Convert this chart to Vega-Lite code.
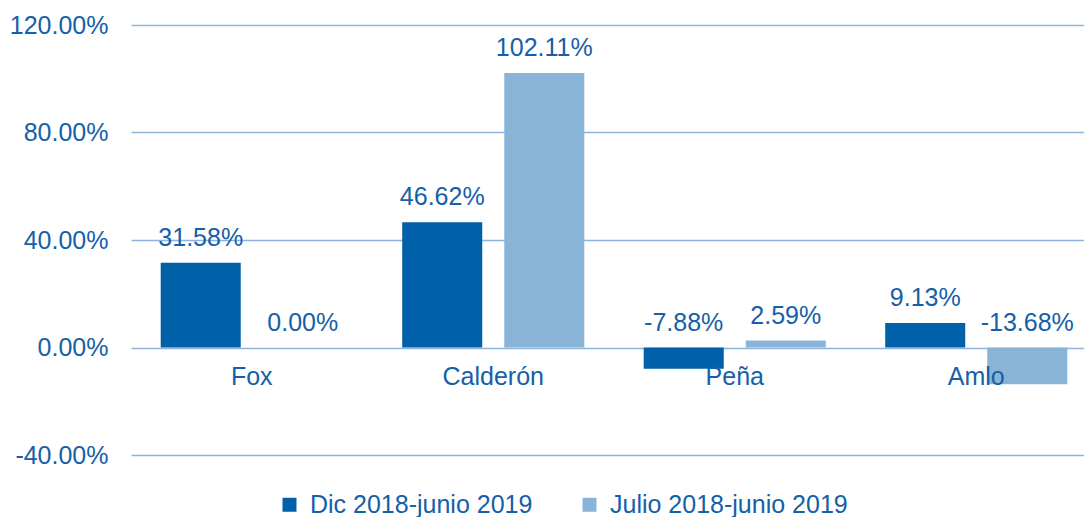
{
  "$schema": "https://vega.github.io/schema/vega-lite/v6.json",
  "width": 966,
  "height": 430,
  "autosize": {"type": "none"},
  "padding": {"left": 131, "top": 25, "right": 0, "bottom": 62},
  "background": "white",
  "config": {
    "view": {"stroke": null},
    "font": "Liberation Sans",
    "locale": {"number": {"decimal": ".", "thousands": ",", "grouping": [3], "currency": ["$", ""], "minus": "-"}}
  },
  "data": {
    "values": [
      {"presidente": "Fox", "periodo": "Dic 2018-junio 2019", "v": 0.3158},
      {"presidente": "Fox", "periodo": "Julio 2018-junio 2019", "v": 0.0},
      {"presidente": "Calderón", "periodo": "Dic 2018-junio 2019", "v": 0.4662},
      {"presidente": "Calderón", "periodo": "Julio 2018-junio 2019", "v": 1.0211},
      {"presidente": "Peña", "periodo": "Dic 2018-junio 2019", "v": -0.0788},
      {"presidente": "Peña", "periodo": "Julio 2018-junio 2019", "v": 0.0259},
      {"presidente": "Amlo", "periodo": "Dic 2018-junio 2019", "v": 0.0913},
      {"presidente": "Amlo", "periodo": "Julio 2018-junio 2019", "v": -0.1368}
    ]
  },
  "encoding": {
    "x": {
      "field": "presidente", "type": "nominal", "sort": null,
      "scale": {"paddingInner": 0.246, "paddingOuter": 0.123},
      "axis": {"title": null, "orient": "bottom", "offset": -107.5, "domain": false, "ticks": false, "grid": false, "zindex": 2,
               "labelPadding": 17, "labelFontSize": 25, "labelColor": "#1560A8", "labelAngle": 0}
    },
    "xOffset": {
      "field": "periodo", "type": "nominal", "sort": null,
      "scale": {"paddingInner": 0.216, "paddingOuter": 0}
    }
  },
  "layer": [
    {
      "mark": {"type": "bar"},
      "encoding": {
        "y": {
          "field": "v", "type": "quantitative",
          "scale": {"domain": [-0.4, 1.2], "nice": false, "zero": false},
          "axis": {"title": null, "values": [-0.4, 0, 0.4, 0.8, 1.2], "format": ".2%", "domain": false, "ticks": false,
                   "grid": true, "gridColor": "#8DB3DE", "gridWidth": 1.5, "gridOpacity": 1,
                   "labelFontSize": 25, "labelColor": "#1560A8", "labelPadding": 23}
        },
        "color": {
          "field": "periodo", "type": "nominal", "sort": null,
          "scale": {"domain": ["Dic 2018-junio 2019", "Julio 2018-junio 2019"], "range": ["#0060A8", "#8AB4D7"]},
          "legend": {"title": null, "orient": "none", "direction": "horizontal", "legendX": 146, "legendY": 467,
                     "symbolType": "square", "symbolSize": 196, "symbolStrokeWidth": 0, "labelFontSize": 25,
                     "labelColor": "#1560A8", "labelOffset": 8, "labelLimit": 0, "columnPadding": 44, "padding": 0}
        }
      }
    },
    {
      "transform": [{"calculate": "max(datum.v, 0)", "as": "ly"}],
      "mark": {"type": "text", "dy": -17, "baseline": "alphabetic", "fontSize": 25, "color": "#1560A8"},
      "encoding": {
        "y": {"field": "ly", "type": "quantitative",
              "axis": {"title": null, "values": [-0.4, 0, 0.4, 0.8, 1.2], "format": ".2%", "domain": false, "ticks": false,
                   "grid": true, "gridColor": "#8DB3DE", "gridWidth": 1.5, "gridOpacity": 1,
                   "labelFontSize": 25, "labelColor": "#1560A8", "labelPadding": 23}},
        "text": {"field": "v", "type": "quantitative", "format": ".2%"}
      }
    }
  ]
}
